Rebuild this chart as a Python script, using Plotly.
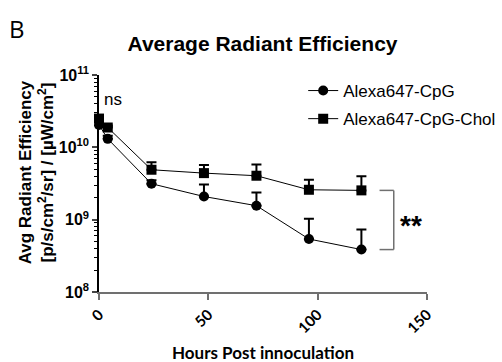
import plotly.graph_objects as go
import math

hours = [0, 4, 24, 48, 72, 96, 120]
cpg = [2.04e10, 1.31e10, 3.14e9, 2.09e9, 1.56e9, 5.4e8, 3.86e8]
cpg_err_top = [2.2e10, 1.45e10, 3.5e9, 3.07e9, 2.38e9, 1.03e9, 7.3e8]
chol = [2.5e10, 1.88e10, 4.9e9, 4.4e9, 4.05e9, 2.59e9, 2.54e9]
chol_err_top = [2.7e10, 2.0e10, 6.2e9, 5.7e9, 5.8e9, 3.56e9, 3.97e9]
x_ticks = [0, 50, 100, 150]
y_ticks = [1e8, 1e9, 1e10, 1e11]
y_ticktext = ["<b>10<sup>8</sup></b>", "<b>10<sup>9</sup></b>",
              "<b>10<sup>10</sup></b>", "<b>10<sup>11</sup></b>"]

cpg_err = [t - v for t, v in zip(cpg_err_top, cpg)]
chol_err = [t - v for t, v in zip(chol_err_top, chol)]

W, H = 502, 362
L, R, T, B = 98.5, 75, 75, 69.5
PW, PH = W - L - R, H - T - B
YMIN, YMAX = 8, 11


def px(xp):
    return (xp - L) / PW


def py(yp):
    return 1 - (yp - T) / PH


def ylog_paper(v):
    return (math.log10(v) - YMIN) / (YMAX - YMIN)


fig = go.Figure()
fig.add_trace(go.Scatter(
    x=hours, y=cpg, mode="lines+markers", name="Alexa647-CpG",
    legendgroup="a",
    line=dict(color="black", width=1),
    marker=dict(symbol="circle", size=10, color="black"),
    error_y=dict(type="data", array=cpg_err, arrayminus=[0] * len(cpg), symmetric=False,
                 color="black", thickness=2, width=5),
    cliponaxis=False,
))
fig.add_trace(go.Scatter(
    x=hours, y=chol, mode="lines+markers", name="Alexa647-CpG-Chol",
    legendgroup="b",
    line=dict(color="black", width=1),
    marker=dict(symbol="square", size=10, color="black"),
    error_y=dict(type="data", array=chol_err, arrayminus=[0] * len(chol), symmetric=False,
                 color="black", thickness=2, width=5),
    cliponaxis=False,
))

minor_vals = [m * 10 ** e for e in range(8, 11) for m in range(2, 10)]

fig.update_layout(
    width=W, height=H,
    margin=dict(l=L, r=R, t=T, b=B, autoexpand=False),
    plot_bgcolor="white", paper_bgcolor="white",
    font=dict(family="Liberation Sans, Arial", color="black"),
    title=dict(text="<b>Average Radiant Efficiency</b>", x=262.5 / W, y=1 - 44 / H,
               xanchor="center", yanchor="middle", font=dict(size=21)),
    showlegend=True,
    legend=dict(x=px(303), y=py(73), xanchor="left", yanchor="top",
                font=dict(size=17), bgcolor="rgba(0,0,0,0)", tracegroupgap=3,
                traceorder="grouped", itemwidth=30),
    xaxis=dict(range=[0, 150], tickvals=x_ticks, ticks="outside", ticklen=6,
               tickwidth=1.5, showline=True, linecolor="#707070", linewidth=2,
               tickcolor="#707070", automargin=False,
               showgrid=False, zeroline=False, tickangle=-45,
               tickfont=dict(family="Lato, Open Sans", size=15, color="black", weight="bold")),
    yaxis=dict(type="log", range=[YMIN, YMAX], tickvals=y_ticks, ticktext=y_ticktext,
               ticks="outside", ticklen=5, tickwidth=1.5, showline=True,
               linecolor="black", linewidth=1.5, showgrid=False, zeroline=False,
               tickfont=dict(size=16), automargin=False,
               minor=dict(tickvals=minor_vals, ticks="outside", ticklen=3,
                          tickwidth=1, tickcolor="black", showgrid=False)),
)

# y-axis title
fig.add_annotation(
    text="<b>Avg Radiant Efficiency<br>[p/s/cm<sup>2</sup>/sr] / [µW/cm<sup>2</sup>]</b>",
    xref="paper", yref="paper", x=px(36), y=py(173),
    textangle=-90, showarrow=False, font=dict(size=17), xanchor="center", yanchor="middle",
)

# x-axis title
fig.add_annotation(
    text="<b>Hours Post innoculation</b>", xref="paper", yref="paper",
    x=px(263), y=py(353), xanchor="center", yanchor="middle", showarrow=False,
    font=dict(family="Lato, Open Sans", size=17),
)

# panel letter
fig.add_annotation(text="B", xref="paper", yref="paper",
                   x=px(6), y=py(28), xanchor="left", yanchor="middle", showarrow=False,
                   font=dict(size=24, family="Open Sans, Liberation Sans"))

# ns label
fig.add_annotation(text="ns", xref="paper", yref="paper", x=px(102), y=py(100),
                   xanchor="left", yanchor="middle", showarrow=False, font=dict(size=17))

# significance bracket (between last points of both series)
y_top = ylog_paper(chol[-1])
y_bot = ylog_paper(cpg[-1])
bx0, bx1 = 128.3, 134.8
for (x0, y0, x1, y1) in [(bx0, y_top, bx1, y_top), (bx1, y_top, bx1, y_bot),
                         (bx0, y_bot, bx1, y_bot)]:
    fig.add_shape(type="line", xref="x", yref="paper", x0=x0, y0=y0, x1=x1, y1=y1,
                  line=dict(color="#707070", width=1.5))
fig.add_annotation(text="<b>**</b>", xref="x", yref="paper", x=136.6, y=(y_top + y_bot) / 2,
                   xanchor="left", yanchor="middle", yshift=-6, showarrow=False,
                   font=dict(size=28))

fig.write_html("out.html", config={"displayModeBar": False},
               post_script="document.body.style.margin='0';")
